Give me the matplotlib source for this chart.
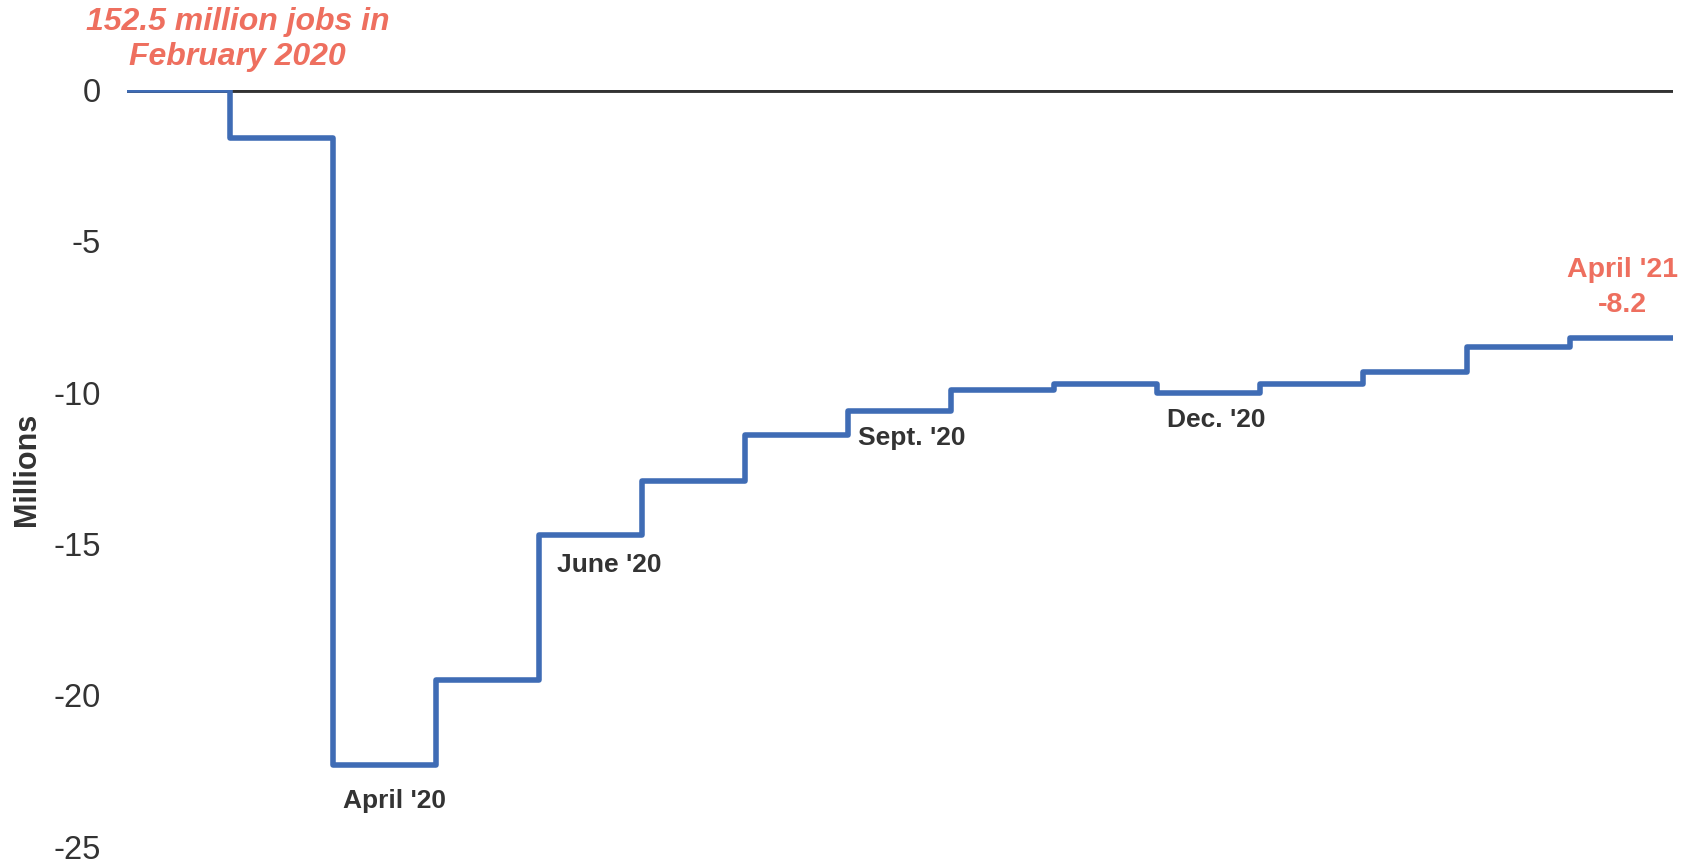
import numpy as np
import matplotlib.pyplot as plt

plt.rcParams['font.family'] = ['Liberation Sans', 'DejaVu Sans']

# Feb 2020 .. April 2021, change in jobs vs Feb 2020 (millions)
months = ["Feb '20", "Mar '20", "Apr '20", "May '20", "Jun '20", "Jul '20", "Aug '20",
          "Sep '20", "Oct '20", "Nov '20", "Dec '20", "Jan '21", "Feb '21", "Mar '21", "Apr '21"]
change = [0, -1.6, -22.3, -19.5, -14.7, -12.9, -11.4, -10.6, -9.9, -9.7, -10.0, -9.7, -9.3, -8.5, -8.2]
yticks = [0, -5, -10, -15, -20, -25]

# callout labels: (text, month index)
callouts = [("April '20", 2), ("June '20", 4), ("Sept. '20", 7), ("Dec. '20", 10)]

blue = '#3F6CB5'
red = '#EE6F5F'
dark = '#333333'

fig = plt.figure(figsize=(16.98, 8.65), dpi=100)
ax = fig.add_axes([0.075, 0.021, 0.91, 0.875])

edges = np.arange(len(change) + 1)
ax.axhline(0, color=dark, lw=3.5, zorder=1)
st = ax.stairs(change, edges, baseline=None, color=blue, lw=4.0, zorder=2)
st.set_joinstyle('round')
st.set_capstyle('round')

ax.set_xlim(0, len(change))
ax.set_ylim(-25, 0)
ax.set_yticks(yticks)
ax.set_yticklabels([str(t) for t in yticks])
ax.set_xticks([])
ax.tick_params(axis='y', length=0, labelsize=23.5, labelcolor=dark, pad=19)
for s in ax.spines.values():
    s.set_visible(False)

fig.text(27 / 1698, 0.457, 'Millions', rotation=90, ha='center', va='center',
         fontsize=22, fontweight='bold', color=dark)

# month callouts
lab = dict(fontsize=19, fontweight='bold', color=dark)
ax.text(2.59, change[2] - 1.2, callouts[0][0], ha='center', va='center', **lab)
ax.text(4.17, change[4] - 1.0, callouts[1][0], ha='left', va='center', **lab)
ax.text(7.09, change[7] - 0.9, callouts[2][0], ha='left', va='center', **lab)
ax.text(10.09, change[10] - 0.9, callouts[3][0], ha='left', va='center', **lab)

ax.text(14.51, change[-1] + 2.25, "April '21", ha='center', va='center',
        fontsize=20.5, fontweight='bold', color=red)
ax.text(14.51, change[-1] + 1.1, "%.1f" % change[-1], ha='center', va='center',
        fontsize=20.5, fontweight='bold', color=red)

ax.text(1.07, 2.25, "152.5 million jobs in", ha='center', va='center',
        fontsize=23, fontweight='bold', fontstyle='italic', color=red)
ax.text(1.07, 1.1, "February 2020", ha='center', va='center',
        fontsize=23, fontweight='bold', fontstyle='italic', color=red)

fig.savefig('out.png', dpi=100)
